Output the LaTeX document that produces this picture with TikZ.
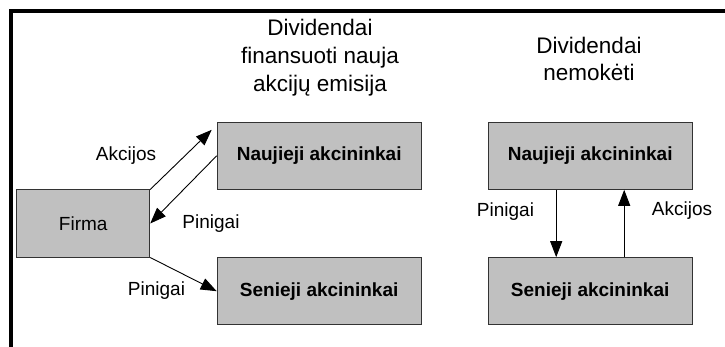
\documentclass[tikz,border=0pt]{standalone}
\usepackage{fontspec}
\setmainfont{Liberation Sans}
\usepackage{tikz}
\usetikzlibrary{matrix, positioning, calc, arrows.meta}
\definecolor{boxgray}{RGB}{192,192,192}

\begin{document}
\begin{tikzpicture}[x=1pt, y=-1pt,
    box/.style={draw=black!80, line width=1pt, fill=boxgray, minimum width=204pt,
                minimum height=67pt, inner sep=0pt, anchor=center,
                font=\fontsize{19}{22}\selectfont\bfseries},
    lbl/.style={font=\fontsize{19}{22}\selectfont, inner sep=0pt},
    ttl/.style={font=\fontsize{22.5}{28}\selectfont, align=center, inner sep=0pt, anchor=north},
    arr/.style={-{Triangle[length=16pt,width=12pt]}, line width=0.9pt}]
\useasboundingbox (0,0) rectangle (725,347);
% frame
\draw[line width=4pt] (11,347) -- (11,11) -- (725,11);
%
\matrix [matrix of nodes, inner sep=0pt, anchor=west,
         column sep={236pt,between origins},
         row sep={67.7pt,between origins},
         nodes={box}] at (16,223.5)
{
  & |(n1)| Naujieji akcininkai &[35pt] |(n2)| Naujieji akcininkai \\
  |[minimum width=133pt, font=\fontsize{19}{22}\selectfont](f)| Firma & & \\
  & |(s1)| Senieji akcininkai & |(s2)| Senieji akcininkai \\
};

\node[ttl] (t1) at (320,18.8) {Dividendai\\finansuoti nauja\\akcijų emisija};
\node[ttl, font=\fontsize{22.5}{27}\selectfont] (t2) at (589,36.5) {Dividendai\\nemokėti};

\coordinate (tip) at ($(n1.north west)+(-5,8)$);
\draw[arr] (f.north east) -- (tip);
\draw[arr] (n1.west) -- (f.east);
\draw[arr] (f.south east) -- (s1.west);
\draw[arr] ([xshift=-34pt]n2.south) -- ([xshift=-34pt]s2.north);
\draw[arr] ([xshift=34pt]s2.north) -- ([xshift=34pt]n2.south);
%
\node[lbl] (a1) at (126,156) {Akcijos};
\node[lbl] (p1) at (211,223.5) {Pinigai};
\node[lbl] (p2) at (156.5,291) {Pinigai};
\node[lbl] (p3) at (505.5,212) {Pinigai};
\node[lbl] (a2) at (682,211) {Akcijos};
\end{tikzpicture}
\end{document}
